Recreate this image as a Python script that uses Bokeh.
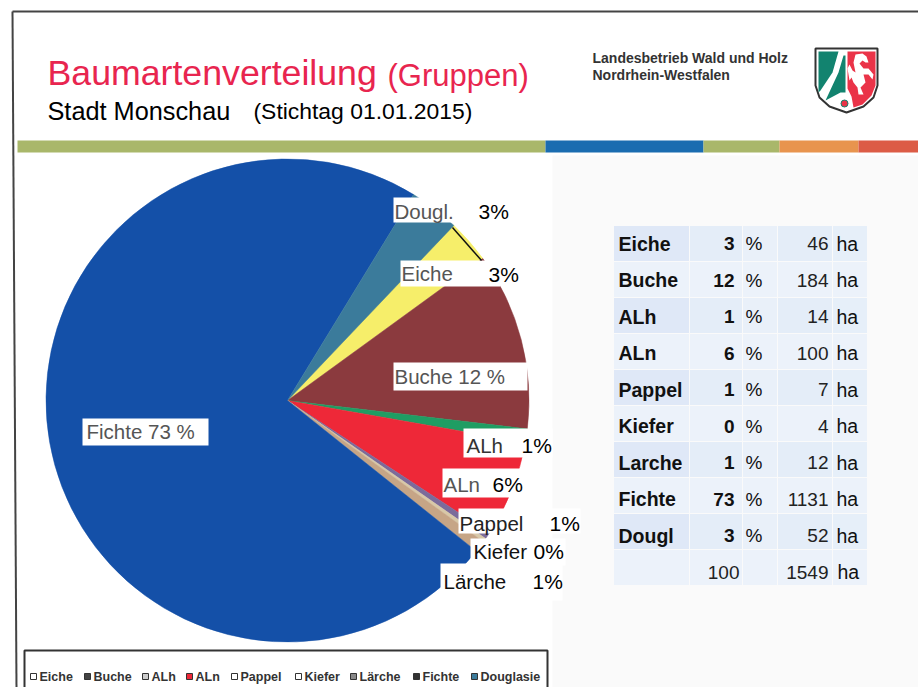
import numpy as np
from bokeh.plotting import figure
from bokeh.models import Range1d
from bokeh.core.properties import value
from bokeh.embed import file_html
from bokeh.resources import INLINE

# --- data -------------------------------------------------------------
species = ["Eiche", "Buche", "ALh", "ALn", "Pappel", "Kiefer", "Lärche", "Fichte", "Dougl."]
table_names = ["Eiche", "Buche", "ALh", "ALn", "Pappel", "Kiefer", "Larche", "Fichte", "Dougl"]
legend_names = ["Eiche", "Buche", "ALh", "ALn", "Pappel", "Kiefer", "Lärche", "Fichte", "Douglasie"]
percent = [3, 12, 1, 6, 1, 0, 1, 73, 3]
hectares = [46, 184, 14, 100, 7, 4, 12, 1131, 52]
total_percent = 100
total_hectares = 1549
colors = ["#f6ee6a", "#8b3a3e", "#1f9d63", "#ee2838", "#7b6b9b", "#d8c8a8", "#c6a586", "#1450a8", "#3b7b9b"]
start_deg = 46.7

FONT = value("Liberation Sans")
W, H = 918, 687
Y = lambda py: 687 - py

p = figure(width=W, height=H, x_range=Range1d(0, W), y_range=Range1d(0, H),
           output_backend="svg", toolbar_location=None, min_border=0,
           outline_line_color=None, background_fill_color="white", border_fill_color="white")
p.axis.visible = False
p.grid.visible = False


def txt(x, py, s, size, color="#000000", style="normal", align="left"):
    p.text([x], [Y(py)], text=[s], text_font=FONT, text_font_size=f"{size}px", text_color=color,
           text_font_style=style, text_align=align, text_baseline="middle")


def box(x0, x1, py0, py1, color="white"):
    p.quad(left=[x0], right=[x1], top=[Y(py0)], bottom=[Y(py1)], fill_color=color, line_color=None)


# page background and frame
box(552, 918, 155, 687, "#fafafa")
p.line([12, 918], [Y(11), Y(11)], line_color="#444444", line_width=2)
p.line([12, 16], [Y(11), Y(687)], line_color="#444444", line_width=2)

# colour bar
for x0, x1, c in [(17, 545, "#a9b76a"), (545, 703, "#1a6cb0"), (703, 779, "#a9b76a"),
                  (779, 858, "#e8944e"), (858, 918, "#dc5c46")]:
    box(x0, x1, 140, 152, c)

# titles
txt(47, 72, "Baumartenverteilung", 35.7, "#e8254f")
txt(387, 75, "(Gruppen)", 31, "#e8254f")
txt(47, 110, "Stadt Monschau", 25.3)
txt(253, 110, "(Stichtag 01.01.2015)", 22.9)
txt(592, 57, "Landesbetrieb Wald und Holz", 14, "#333333", "bold")
txt(592, 74, "Nordrhein-Westfalen", 14, "#333333", "bold")

# crest
sx = [815, 877, 877, 873, 863, 846, 829, 819, 815]
sy = [48, 48, 85, 97, 106, 112, 106, 97, 85]
p.patch(sx, [Y(v) for v in sy], fill_color="white", line_color="#333333", line_width=2)
for xs, ys, c in [
    ([818, 838, 832, 820, 818], [51, 51, 72, 90, 92], "#12836f"),
    ([843, 845, 845, 840, 825, 838], [55, 55, 92, 92, 100, 72], "#12836f"),
    ([847, 875, 875, 871, 862, 853, 851, 847], [51, 51, 85, 95, 104, 107, 96, 88], "#ea3348"),
    ([855, 862, 866, 868, 865, 862, 859, 863, 868, 873, 872, 868, 863, 865, 860, 863, 858, 857, 853, 851, 849, 847, 849, 852, 855, 853],
     [54, 53, 56, 62, 62, 60, 63, 68, 68, 74, 79, 74, 74, 82, 87, 94, 94, 87, 82, 77, 80, 68, 64, 70, 72, 62], "white"),
]:
    p.patch(xs, [Y(v) for v in ys], fill_color=c, line_color=None)
p.scatter([844], [Y(103)], size=7, marker="circle", fill_color="#ea3348", line_color="#12836f", line_width=1)

# pie
share = np.array(hectares, dtype=float) / total_hectares
cum = np.concatenate([[0], np.cumsum(share)])
ends = np.radians(start_deg) - 2 * np.pi * cum[:-1]
starts = np.radians(start_deg) - 2 * np.pi * cum[1:]
p.wedge(x=[287] * len(share), y=[Y(400)] * len(share), radius=241.5,
        start_angle=starts, end_angle=ends, direction="anticlock",
        fill_color=colors, line_color=colors, line_width=0.5)

# white label plates
for x0, x1, y0, y1 in [(393, 452, 197, 222), (400, 500, 260, 286), (393, 527, 362, 390), (463, 552, 428, 457),
                       (442, 525, 468, 497), (458, 580, 508, 533), (470, 565, 538, 565), (440, 562, 563, 600),
                       (82, 208, 418, 445)]:
    box(x0, x1, y0, y1)
p.line([452, 481], [Y(227), Y(260)], line_color="#111111", line_width=1.5)

# pie labels
GREY = "#555555"
NAME, PCT = 20.5, 21
txt(394, 211, species[8], NAME, GREY)
txt(478, 211, f"{percent[8]}%", PCT)
txt(401, 273, species[0], NAME, GREY)
txt(488, 274, f"{percent[0]}%", PCT)
txt(394, 376, f"{species[1]} {percent[1]} %", NAME, GREY)
txt(466, 445, species[2], NAME, "#333333")
txt(521, 445, f"{percent[2]}%", PCT)
txt(443, 484, species[3], NAME, GREY)
txt(492, 484, f"{percent[3]}%", PCT)
txt(459, 523, species[4], NAME, "#222222")
txt(549, 523, f"{percent[4]}%", PCT)
txt(473, 551, species[5], NAME, "#111111")
txt(533, 551, f"{percent[5]}%", PCT)
txt(443, 581, species[6], NAME, "#111111")
txt(532, 581, f"{percent[6]}%", PCT)
txt(86, 431, f"{species[7]}  {percent[7]} %", NAME, GREY)

# table
col_edges = [613, 689, 742, 777, 832, 867]
col_fill = ["#dfe8f7", "#e4edf8", "#e9f0f9", "#e4edf8", "#e6eff9"]
row_top = 225
row_h = 36
for r in range(10):
    for c in range(5):
        box(col_edges[c] + 0.5, col_edges[c + 1] - 0.5, row_top + r * row_h + 0.5, row_top + (r + 1) * row_h - 0.5,
            col_fill[c] if r % 2 == 0 else "#ecf2fa")
centers = [243 + i * 36.55 for i in range(10)]
for i, name in enumerate(table_names):
    cy = centers[i]
    txt(618, cy, name, 19.5, "#111111", "bold")
    txt(734, cy, str(percent[i]), 19, "#111111", "bold", "right")
    txt(745, cy, "%", 19, "#111111")
    txt(828, cy, str(hectares[i]), 19, "#222222", "normal", "right")
    txt(836, cy, "ha", 19.5, "#111111")
txt(739, centers[9], str(total_percent), 19, "#222222", "normal", "right")
txt(828, centers[9], str(total_hectares), 19, "#222222", "normal", "right")
txt(837, centers[9], "ha", 19.5, "#111111")

# legend
box(24, 547, 650, 690)
p.line([24, 24, 547, 547], [Y(690), Y(650), Y(650), Y(690)], line_color="#333333", line_width=2)
leg_x = [33, 87, 145, 189, 234, 298, 353, 416, 474]
leg_fill = ["white", "#444444", "#cccccc", "#ee2838", "white", "white", "#888888", "#333333", "#3b7b9b"]
for x, name, c in zip(leg_x, legend_names, leg_fill):
    p.quad(left=[x - 3], right=[x + 3], top=[Y(673)], bottom=[Y(679)], fill_color=c, line_color="#333333")
    txt(x + 6, 676, name, 12.5, "#333333", "bold")

open("out.html", "w").write(file_html(p, INLINE))
